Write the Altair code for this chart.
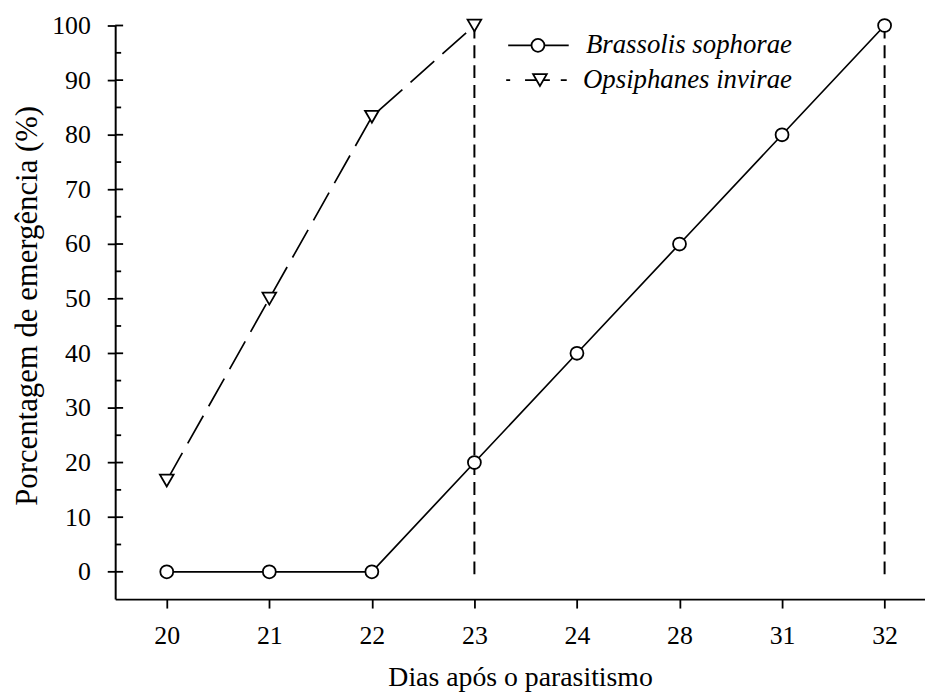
import altair as alt
import pandas as pd

# ---- data ----
days = ["20", "21", "22", "23", "24", "28", "31", "32"]
brassolis = [0, 0, 0, 20, 40, 60, 80, 100]
opsiphanes = [16.7, 50, 83.3, 100]
series_names = ["Brassolis sophorae", "Opsiphanes invirae"]
major_ticks = list(range(0, 101, 10))
minor_ticks = list(range(5, 100, 10))

FONT = "Liberation Serif"

rows = []
for i, v in enumerate(brassolis):
    rows.append({"idx": i, "day": days[i], "pct": v, "serie": series_names[0]})
for i, v in enumerate(opsiphanes):
    rows.append({"idx": i, "day": days[i], "pct": v, "serie": series_names[1]})
df = pd.DataFrame(rows)
df_b = df[df.serie == series_names[0]]
df_o = df[df.serie == series_names[1]]

drops = pd.DataFrame([
    {"idx": len(brassolis) - 1, "pct": brassolis[-1], "base": -1},
    {"idx": len(opsiphanes) - 1, "pct": opsiphanes[-1], "base": -1},
])

ticks_df = pd.DataFrame({"pct": major_ticks})
minor_df = pd.DataFrame({"pct": minor_ticks})
legend_df = pd.DataFrame({"serie": series_names})

label_expr = "[" + ",".join("'%s'" % d for d in days) + "][datum.value]"

xscale = alt.Scale(domain=[-0.503, 7.394], nice=False, zero=False)
yscale = alt.Scale(domain=[-5, 100], nice=False, zero=False)

x_axis = alt.Axis(values=list(range(len(days))), labelExpr=label_expr,
                  title="Dias após o parasitismo", tickSize=9,
                  labelPadding=15, titlePadding=15, grid=False,
                  titleFontSize=28)
y_axis = alt.Axis(values=major_ticks, title="Porcentagem de emergência (%)",
                  tickSize=8, labelPadding=17, titlePadding=8, grid=False,
                  titleFontSize=31, titleY=282)

X = alt.X("idx:Q", scale=xscale, axis=x_axis)
Y = alt.Y("pct:Q", scale=yscale, axis=y_axis)

line_b = alt.Chart(df_b).mark_line(color="black", strokeWidth=1.7).encode(x=X, y=Y)
line_o = alt.Chart(df_o).mark_line(color="black", strokeWidth=1.7,
                                   strokeDash=[32, 11]).encode(x=X, y=Y)

drop_rules = alt.Chart(drops).mark_rule(color="black", strokeWidth=2,
                                        strokeDash=[13, 7]).encode(
    x=X, y=Y, y2="base:Q",
)

pts_b = alt.Chart(df_b).mark_point(shape="circle", filled=True, fill="white",
                                   stroke="black", strokeWidth=1.8, size=170,
                                   opacity=1).encode(x=X, y=Y)
pts_o = alt.Chart(df_o).mark_point(shape="triangle-down", filled=True, fill="white",
                                   stroke="black", strokeWidth=1.8, size=190,
                                   opacity=1).encode(x=X, y=Y)

inner_major = alt.Chart(ticks_df).mark_rule(color="black", strokeWidth=1.8).encode(
    y=Y, x=alt.value(0), x2=alt.value(8))
inner_minor = alt.Chart(minor_df).mark_rule(color="black", strokeWidth=1.8).encode(
    y=Y, x=alt.value(0), x2=alt.value(6))

# ---- legend ----
leg_rows_y = [20, 55]
leg_b = legend_df[legend_df.serie == series_names[0]]
leg_o = legend_df[legend_df.serie == series_names[1]]

leg_line_b = alt.Chart(leg_b).mark_rule(color="black", strokeWidth=1.7).encode(
    x=alt.value(396), x2=alt.value(457), y=alt.value(leg_rows_y[0]))
leg_line_o = alt.Chart(leg_o).mark_rule(color="black", strokeWidth=1.7,
                                        strokeDash=[4, 15, 25, 11, 6]).encode(
    x=alt.value(394), x2=alt.value(457), y=alt.value(leg_rows_y[1]))
leg_pt_b = alt.Chart(leg_b).mark_point(shape="circle", filled=True, fill="white",
                                       stroke="black", strokeWidth=1.8, size=170,
                                       opacity=1).encode(
    x=alt.value(426), y=alt.value(leg_rows_y[0]))
leg_pt_o = alt.Chart(leg_o).mark_point(shape="triangle-down", filled=True, fill="white",
                                       stroke="black", strokeWidth=1.8, size=190,
                                       opacity=1).encode(
    x=alt.value(428), y=alt.value(leg_rows_y[1]))
leg_txt_b = alt.Chart(leg_b).mark_text(align="right", baseline="middle", font=FONT,
                                       fontSize=27, fontStyle="italic",
                                       color="black").encode(
    x=alt.value(682), y=alt.value(leg_rows_y[0]), text="serie:N")
leg_txt_o = alt.Chart(leg_o).mark_text(align="right", baseline="middle", font=FONT,
                                       fontSize=27, fontStyle="italic",
                                       color="black").encode(
    x=alt.value(682), y=alt.value(leg_rows_y[1]), text="serie:N")

chart = alt.layer(
    line_b, line_o, drop_rules, inner_major, inner_minor, pts_b, pts_o,
    leg_line_b, leg_line_o, leg_pt_b, leg_pt_o, leg_txt_b, leg_txt_o,
).properties(
    width=816, height=578,
    background="white",
    autosize=alt.AutoSizeParams(type="none"),
    padding={"left": 108, "top": 15, "right": 0, "bottom": 97},
).configure_view(
    stroke=None
).configure_axis(
    domainColor="black", domainWidth=2, tickColor="black", tickWidth=1.8,
    labelFont=FONT, labelFontSize=26, labelColor="black",
    titleFont=FONT, titleFontSize=27, titleColor="black", titleFontWeight="normal",
)

chart.save("out.html", embed_options={"renderer": "svg", "actions": False})
